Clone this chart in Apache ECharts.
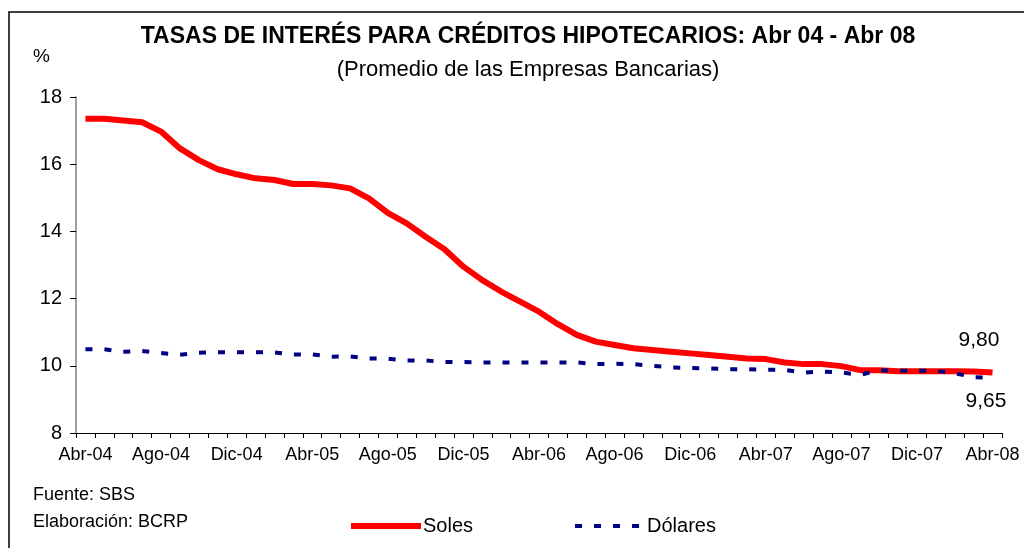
<!DOCTYPE html>
<html>
<head>
<meta charset="utf-8">
<script src="https://cdn.jsdelivr.net/npm/echarts@6/dist/echarts.min.js"></script>
<style>
  html, body { margin: 0; padding: 0; background: #fff; }
  #chart { width: 1024px; height: 548px; }
</style>
</head>
<body>
<div id="chart"></div>
<script>
  // meses Abr-04 .. Abr-08
  const meses = ['Abr', 'May', 'Jun', 'Jul', 'Ago', 'Set', 'Oct', 'Nov', 'Dic', 'Ene', 'Feb', 'Mar'];
  const categorias = [];
  for (let y = 4; y <= 8; y++) {
    for (let m = 0; m < 12; m++) {
      if (y === 8 && m > 0) break;
      categorias.push(meses[m] + '-0' + (m >= 9 ? y + 1 : y));
    }
  }

  const soles = [
    17.35, 17.35, 17.30, 17.25, 16.97, 16.47, 16.12, 15.85, 15.70, 15.58,
    15.53, 15.41, 15.41, 15.37, 15.28, 14.98, 14.55, 14.24, 13.84, 13.47,
    12.95, 12.55, 12.21, 11.91, 11.61, 11.24, 10.92, 10.72, 10.62, 10.52,
    10.47, 10.42, 10.37, 10.32, 10.27, 10.22, 10.20, 10.10, 10.05, 10.05,
    9.99, 9.87, 9.87, 9.84, 9.84, 9.84, 9.84, 9.83, 9.80
  ];

  const dolares = [
    10.49, 10.49, 10.42, 10.44, 10.38, 10.33, 10.39, 10.40, 10.40, 10.40,
    10.40, 10.34, 10.34, 10.27, 10.28, 10.22, 10.21, 10.16, 10.16, 10.11,
    10.11, 10.10, 10.10, 10.10, 10.10, 10.10, 10.10, 10.05, 10.06, 10.05,
    10.00, 9.95, 9.94, 9.92, 9.90, 9.90, 9.88, 9.88, 9.80, 9.83,
    9.80, 9.73, 9.87, 9.85, 9.85, 9.85, 9.78, 9.66, 9.65
  ];

  const yTicks = [8, 10, 12, 14, 16, 18];

  const font = '"Liberation Sans", Arial, sans-serif';
  const fmt = v => v.toFixed(2).replace('.', ',');

  const chart = echarts.init(document.getElementById('chart'));
  chart.setOption({
    animation: false,
    textStyle: { fontFamily: font, color: '#000' },
    title: [
      {
        text: 'TASAS DE INTERÉS PARA CRÉDITOS HIPOTECARIOS: Abr 04 - Abr 08',
        left: 523, top: 20, textAlign: 'center',
        textStyle: { fontSize: 23, fontWeight: 'bold', fontFamily: font, color: '#000' }
      },
      {
        text: '(Promedio de las Empresas Bancarias)',
        left: 523, top: 54, textAlign: 'center',
        textStyle: { fontSize: 22, fontWeight: 'normal', fontFamily: font, color: '#000' }
      }
    ],
    graphic: [
      { type: 'rect', shape: { x: 9, y: 12, width: 1100, height: 600 },
        style: { fill: 'none', stroke: '#000', lineWidth: 1.5 }, silent: true },
      { type: 'text', left: 33, top: 47, style: { text: '%', font: '19px ' + font, fill: '#000' } },
      { type: 'text', left: 33, top: 486, style: { text: 'Fuente: SBS', font: '18px ' + font, fill: '#000' } },
      { type: 'text', left: 33, top: 513, style: { text: 'Elaboración: BCRP', font: '18px ' + font, fill: '#000' } }
    ],
    legend: {
      left: 343, top: 511,
      itemWidth: 70, itemHeight: 14, itemGap: 100,
      itemStyle: { opacity: 0 },
      textStyle: { fontSize: 20, fontFamily: font, color: '#000', padding: [0, 0, 0, -3] },
      data: [
        { name: 'Soles', lineStyle: { width: 6, color: '#ff0000' } },
        { name: 'Dólares', lineStyle: { width: 4, color: '#000080', type: [7, 12] } }
      ]
    },
    grid: { left: 76, right: 22, top: 97, bottom: 115 },
    xAxis: {
      type: 'category',
      data: categorias,
      boundaryGap: true,
      axisLine: { lineStyle: { color: '#000', width: 1 } },
      axisTick: { show: true, interval: 0, length: 5, inside: false, lineStyle: { color: '#000' } },
      axisLabel: { interval: 3, fontSize: 18, fontFamily: font, color: '#000', margin: 13 },
      splitLine: { show: false }
    },
    yAxis: {
      type: 'value',
      min: yTicks[0], max: yTicks[yTicks.length - 1], interval: 2,
      axisLine: { show: true, lineStyle: { color: '#808080', width: 1.5 } },
      axisTick: { show: true, length: 6, lineStyle: { color: '#000' } },
      axisLabel: { fontSize: 20, fontFamily: font, color: '#000', margin: 14 },
      splitLine: { show: false }
    },
    series: [
      {
        name: 'Soles',
        type: 'line',
        data: soles,
        symbol: 'none',
        lineStyle: { color: '#ff0000', width: 6 },
        itemStyle: { color: '#ff0000' },
        z: 3,
        endLabel: {
          show: true, offset: [-42, -32],
          fontSize: 21, fontFamily: font, color: '#000',
          formatter: p => fmt(p.value)
        }
      },
      {
        name: 'Dólares',
        type: 'line',
        data: dolares,
        symbol: 'none',
        lineStyle: { color: '#000080', width: 4, type: [7, 12] },
        itemStyle: { color: '#000080' },
        z: 4,
        endLabel: {
          show: true, offset: [-35, 24],
          fontSize: 21, fontFamily: font, color: '#000',
          formatter: p => fmt(p.value)
        }
      }
    ]
  });
</script>
</body>
</html>
